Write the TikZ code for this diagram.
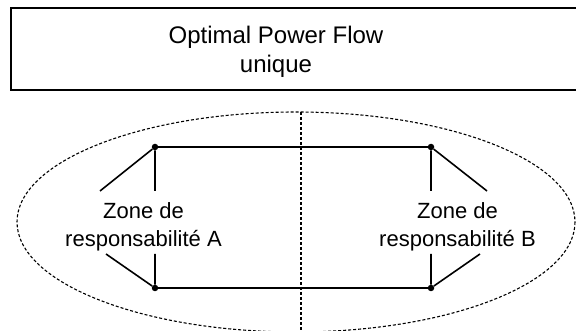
\documentclass[tikz,border=0pt]{standalone}
\usepackage{fontspec}
\setmainfont{Liberation Sans}
\usetikzlibrary{positioning}
\tikzset{pointille/.style={dash pattern=on 3pt off 2pt, line width=1.1pt},
	liaison/.style={line width=1.6pt},
	noeud/.style={circle, fill=black, inner sep=0pt, minimum size=6.5pt},
	zone/.style={align=center, inner sep=0pt, font=\fontsize{22}{28}\selectfont}}

\begin{document}
\begin{tikzpicture}[x=1pt,y=-1pt]
	\useasboundingbox (0,0) rectangle (576,331);
	% cadre du titre
	\draw[line width=1.3pt] (11,8) rectangle (582,90);
	\node[align=center, inner sep=0pt, font=\fontsize{24}{29}\selectfont] (titre) at (276,52) {Optimal Power Flow\\unique};
	% ellipse et separation
	\draw[pointille] (296,222) ellipse [x radius=279, y radius=110];
	\coordinate (sep haut) at (301,112);
	\coordinate (sep bas) at (301,333);
	\draw[pointille] (sep haut) -- (sep bas);
	% noeuds du reseau
	\node[noeud] (ha) at (155,147) {};
	\node[noeud] (ba) at (155,288) {};
	\node[noeud] (hb) at (431,147) {};
	\node[noeud] (bb) at (431,288) {};
	\draw[liaison] (ha) -- (hb);
	\draw[liaison] (ba) -- (bb);
	% zones
	\node[zone] (za) at (143.5,227) {Zone de\\responsabilit\'e A};
	\node[zone] (zb) at (457.5,227) {Zone de\\responsabilit\'e B};
	\coordinate (za no) at (100,191); \coordinate (za n) at (155,191);
	\coordinate (za so) at (106,254); \coordinate (za s) at (155,254);
	\coordinate (zb ne) at (487,191); \coordinate (zb n) at (431,191);
	\coordinate (zb se) at (480,254); \coordinate (zb s) at (431,254);
	\draw[liaison] (za no) -- (ha) -- (za n);
	\draw[liaison] (za so) -- (ba) -- (za s);
	\draw[liaison] (zb ne) -- (hb) -- (zb n);
	\draw[liaison] (zb se) -- (bb) -- (zb s);
\end{tikzpicture}
\end{document}
